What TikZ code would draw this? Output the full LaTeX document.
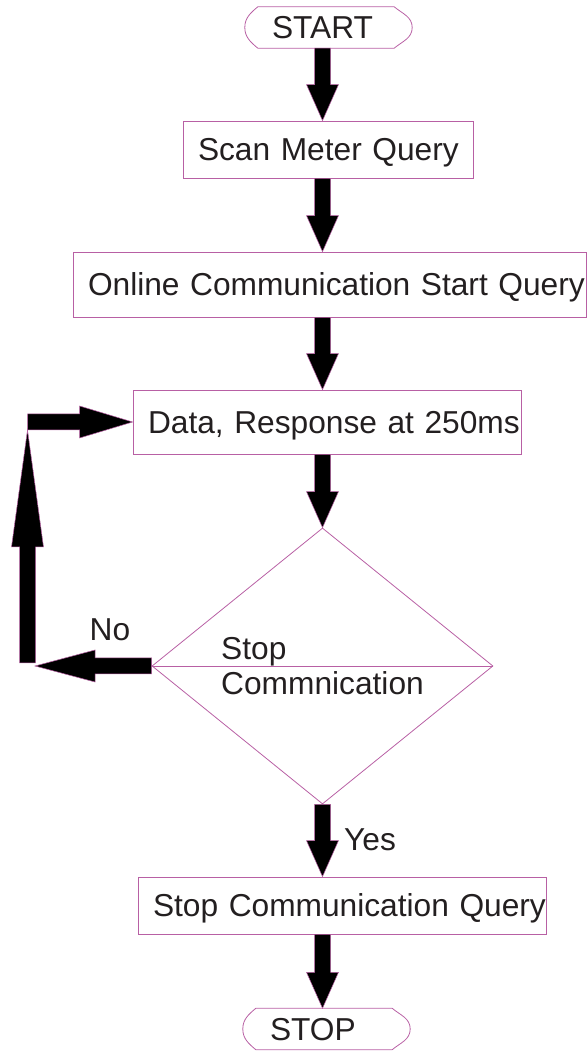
\documentclass[tikz,border=0pt]{standalone}
\usepackage{fontspec}
\setmainfont{Liberation Sans}
\usepackage{xcolor}
\definecolor{bordo}{RGB}{184,96,164}
\definecolor{texto}{RGB}{35,31,32}
\usetikzlibrary{shapes.geometric, calc, positioning}
\hfuzz=60pt

\tikzset{
  borde/.style={draw=bordo, line width=0.8pt},
  caja/.style={borde, rectangle, align=left, inner xsep=15pt, inner ysep=0pt, text height=22.7pt, text depth=0pt},
  terminal/.style={rectangle, align=left, inner xsep=27pt, inner ysep=0pt, text width=113pt, minimum height=41pt, text height=22.7pt, text depth=0pt},
  decision/.style={borde, diamond, inner sep=0pt, align=left, minimum width=341pt, minimum height=276pt},
  bloque/.style={fill=black, draw=bordo, line width=0.5pt, line join=miter},
  etiqueta/.style={inner sep=0pt, text height=22.7pt, text depth=0pt}
}

% flecha gruesa: [largo de la punta]{inicio}{punta}
\newcommand{\flecha}[3][36]{%
  \coordinate (fh) at ($(#3)!#1pt!(#2)$);
  \filldraw[bloque] ($(#2)!8pt!90:(#3)$) -- ($(fh)!8pt!-90:(#2)$) -- ($(fh)!16pt!-90:(#2)$) -- (#3)
    -- ($(fh)!16pt!90:(#2)$) -- ($(fh)!8pt!90:(#2)$) -- ($(#2)!8pt!-90:(#3)$) -- cycle;
}

\begin{document}
\begin{tikzpicture}[x=1pt, y=1pt, font=\fontsize{31.7}{35}\selectfont, text=texto]
        \useasboundingbox (0,0) rectangle (587,1053);
        \coordinate (eje) at (322.5,0);
        % Nodos del diagrama
        \node[terminal] (start) at (328.5,1025.5) {START};
        \node[caja, text width=260pt, minimum height=57pt] (scan) at (328,903.5) {\mbox{Scan Meter Query}};
        \node[caja, text width=483pt, minimum height=65pt] (online) at (329.5,768.5) {\mbox{Online Communication Start Query}};
        \node[caja, text width=358pt, minimum height=64pt] (data) at (327,631) {\mbox{Data, Response at 250ms}};
        \node[decision] (dec) at (322.5,387) {Stop\\Commnication};
        \node[caja, text width=378pt, minimum height=57pt] (stopq) at (342,147.5) {\mbox{Stop Communication Query}};
        \node[terminal] (stop) at (326.5,24) {STOP};
        % Contorno de inicio y fin
        \foreach \t in {start,stop} {
            \draw[borde] ([xshift=13pt]\t.north west) -- ([xshift=-18pt]\t.north east)
                to[out=-40,in=90] (\t.east) to[out=-90,in=40] ([xshift=-18pt]\t.south east)
                -- ([xshift=13pt]\t.south west) to[out=140,in=-90] (\t.west)
                to[out=90,in=-140] ([xshift=13pt]\t.north west) -- cycle;
        }
        \draw[borde] (dec.west) -- (dec.east);
        % Flechas principales
        \flecha{start.south -| eje}{scan.north -| eje}
        \flecha{scan.south -| eje}{online.north -| eje}
        \flecha{online.south -| eje}{data.north -| eje}
        \flecha{data.south -| eje}{dec.north}
        \flecha{dec.south}{stopq.north -| eje}
        \flecha{stopq.south -| eje}{stop.north -| eje}
        % Regreso por la izquierda
        \coordinate (g1) at (35,388);
        \coordinate (g2) at (27.5,390);
        \coordinate (g3) at (27.5,623);
        \flecha[60]{dec.west}{g1 |- dec.west}
        \flecha[117]{g2}{g3}
        \flecha[53]{g3 |- data.west}{data.west}
        % Etiquetas
        \node[etiqueta] (no) at (110,423.5) {No};
        \node[etiqueta] (yes) at (370,214) {Yes};
    \end{tikzpicture}
\end{document}
